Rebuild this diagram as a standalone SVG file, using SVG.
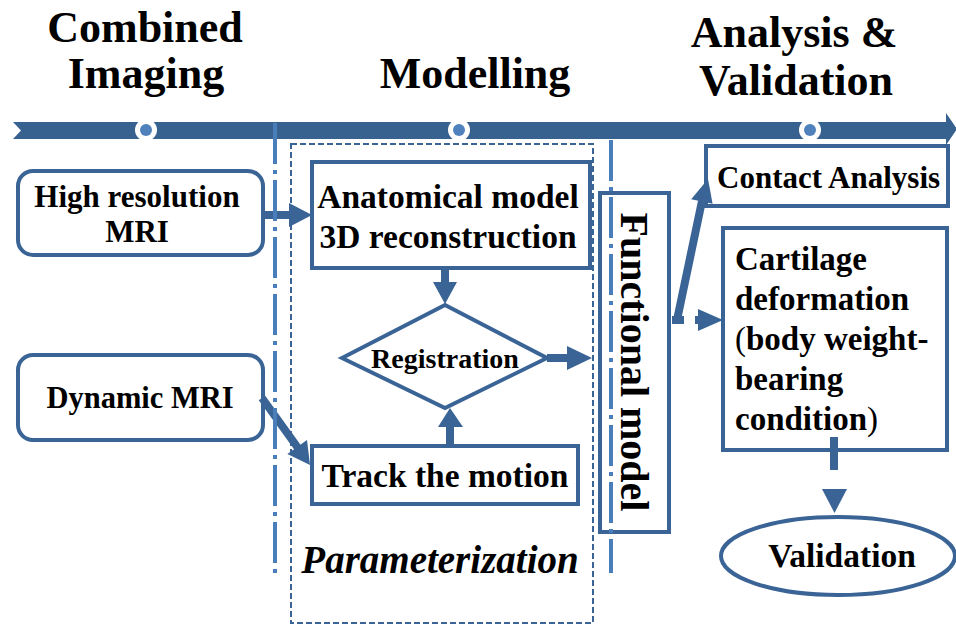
<svg xmlns="http://www.w3.org/2000/svg" width="956" height="626" viewBox="0 0 956 626">
<style>
  text { font-family: "Liberation Serif", "Times New Roman", serif; font-weight: bold; fill: #000; }
  .box { fill: #fff; stroke: #3a6496; stroke-width: 4; }
  .nofill { fill: none; stroke: #3a6496; stroke-width: 4; }
  .conn { stroke: #3a6496; stroke-width: 8; fill: none; }
  .head { fill: #3a6496; stroke: none; }
  .dashdot { stroke: #4a7ebb; stroke-width: 4; fill: none; stroke-dasharray: 41 6 4 6; }
  .h { font-size: 44px; text-anchor: middle; }
  .mid { text-anchor: middle; }
</style>
<rect width="956" height="626" fill="#fff"/>

<!-- Headings -->
<g id="headings">
  <text class="h" x="145" y="42">Combined</text>
  <text class="h" x="146" y="88">Imaging</text>
  <text class="h" x="475" y="88">Modelling</text>
  <text class="h" x="794" y="47" font-size="44.5">Analysis &amp;</text>
  <text class="h" x="796" y="95">Validation</text>
</g>

<!-- Timeline -->
<g id="timeline">
  <polygon points="13,122 946,122 946,113 957,129 946,145 946,139 13,139 21,130.5" fill="#37618f"/>
  <circle cx="146" cy="130" r="11" fill="#fff"/>
  <circle cx="146" cy="130" r="6" fill="#4f81bd"/>
  <circle cx="459" cy="130" r="11" fill="#fff"/>
  <circle cx="459" cy="130" r="6" fill="#4f81bd"/>
  <circle cx="810" cy="130" r="11" fill="#fff"/>
  <circle cx="810" cy="130" r="6" fill="#4f81bd"/>
</g>

<!-- Parameterization dashed group box -->
<g id="parameterization">
  <rect x="291" y="144" width="302" height="479" fill="none" stroke="#3a6496" stroke-width="2" stroke-dasharray="6 3"/>
  <text x="440" y="573" class="mid" font-size="39" font-style="italic">Parameterization</text>
</g>

<g id="highres">
  <rect class="box" x="18" y="171" width="245" height="84" rx="15"/>
  <text class="mid" x="137" y="207" font-size="31">High resolution</text>
  <text class="mid" x="137" y="242" font-size="31">MRI</text>
</g>

<g id="dynamic">
  <rect class="box" x="18" y="355" width="245" height="85" rx="15"/>
  <text class="mid" x="140" y="408" font-size="30.5">Dynamic MRI</text>
</g>

<g id="anatomical">
  <rect class="box" x="312" y="162" width="278" height="106"/>
  <text class="mid" x="448" y="208" font-size="33.5">Anatomical model</text>
  <text class="mid" x="448" y="248" font-size="33.5">3D reconstruction</text>
</g>

<g id="registration">
  <polygon class="box" points="342,358 445,305 547,358 445,408"/>
  <text class="mid" x="445" y="368" font-size="28">Registration</text>
</g>

<g id="track">
  <rect class="box" x="312" y="446" width="266" height="58"/>
  <text class="mid" x="445" y="487" font-size="33.5">Track the motion</text>
</g>

<g id="functional">
  <rect class="nofill" x="600" y="193" width="69" height="339"/>
  <text class="mid" transform="translate(621,362) rotate(90)" font-size="40">Functional model</text>
</g>

<g id="contact">
  <rect class="box" x="706" y="146" width="242" height="60"/>
  <text x="717" y="188" font-size="31">Contact Analysis</text>
</g>

<g id="cartilage">
  <rect class="box" x="723" y="228" width="224" height="222"/>
  <text x="735" y="270" font-size="33">Cartilage</text>
  <text x="735" y="310" font-size="33">deformation</text>
  <text x="735" y="350" font-size="33"><tspan font-weight="normal">(</tspan>body weight-</text>
  <text x="735" y="390" font-size="33">bearing</text>
  <text x="735" y="430" font-size="33">condition<tspan font-weight="normal">)</tspan></text>
</g>

<g id="validation">
  <ellipse class="box" cx="838" cy="556" rx="117" ry="39"/>
  <text class="mid" x="842" y="567" font-size="33.5">Validation</text>
</g>

<!-- Connectors -->
<g id="connectors">
  <line class="conn" x1="263" y1="215" x2="292" y2="215"/>
  <polygon class="head" points="289,203 312,215 289,227"/>

  <line class="conn" x1="445" y1="268" x2="445" y2="284"/>
  <polygon class="head" points="433,282 457,282 445,304"/>

  <line class="conn" x1="450" y1="446" x2="450" y2="425"/>
  <polygon class="head" points="438,427 463,427 450,408"/>

  <line class="conn" x1="547" y1="358" x2="569" y2="358"/>
  <polygon class="head" points="567,346 592,358 567,370"/>

  <line class="conn" x1="262" y1="398" x2="298" y2="448"/>
  <polygon class="head" points="287.4,454.1 310,465 307,440.1"/>

  <path class="conn" d="M672,320 H677 L702,201"/>
  <polygon class="head" points="691.2,199.2 708,179 712.6,203.8"/>

  <path class="conn" d="M672,320 H684 M695,320 H700"/>
  <polygon class="head" points="698,309 723,320 698,331"/>

  <line class="conn" x1="834" y1="437" x2="834" y2="470"/>
  <polygon class="head" points="822,489 847,489 834.5,513"/>
</g>

<!-- Phase separators (dash-dot) -->
<g id="separators">
  <line class="dashdot" x1="275" y1="123" x2="275" y2="573"/>
  <line class="dashdot" x1="611" y1="140" x2="611" y2="573"/>
</g>
</svg>
